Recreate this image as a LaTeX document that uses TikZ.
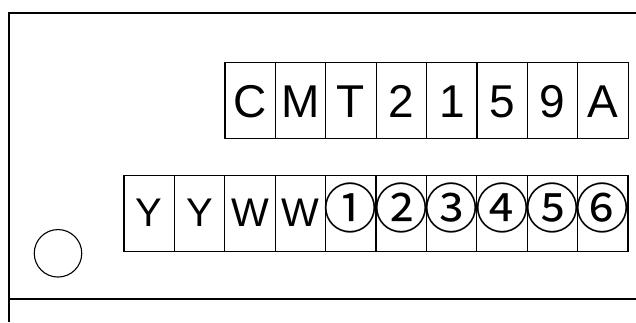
\documentclass[tikz,border=0pt]{standalone}
\usepackage{fontspec}
\setmainfont{Liberation Sans}
\newfontfamily\circfont{Noto Sans CJK JP}
\begin{document}
\begin{tikzpicture}[x=1pt,y=-1pt,
  cellbox/.style={draw,line width=1.1pt,minimum width=50.4pt,minimum height=75.5pt,inner sep=0pt,text depth=0pt},
  topcell/.style={cellbox,text height=34pt,font=\fontsize{46}{46}\selectfont},
  botcell/.style={cellbox,text height=26.4pt,font=\fontsize{40}{40}\selectfont},
  circcell/.style={cellbox,text height=29pt,font=\circfont\fontsize{54}{54}\selectfont},
  frame/.style={line width=1.1pt}]
\useasboundingbox (0,0) rectangle (636,322);
\coordinate (tl) at (9,13);
\coordinate (tr) at (636,13);
\coordinate (bl) at (9,322);
\coordinate (ml) at (9,299);
\coordinate (mr) at (636,299);
\draw[frame] (bl) -- (tl) -- (tr);
\draw[frame] (ml) -- (mr);
\node[draw,line width=1.1pt,circle,minimum size=47.5pt,inner sep=0pt] (hole) at (58,253.3) {};
% top row
\foreach \t [count=\i from 0] in {C,M,T,2,1,5,9,A}{
  \node[topcell] (t\i) at ({225+25.2+50.4*\i},100.3) {\makebox[0pt]{\t}};
}
% bottom row
\foreach \t [count=\i from 0] in {Y,Y,W,W}{
  \node[botcell] (b\i) at ({124+25.2+50.4*\i},213.5) {\makebox[0pt]{\t}};
}
\foreach \t [count=\i from 4] in {①,②,③,④,⑤,⑥}{
  \node[circcell] (b\i) at ({124+25.2+50.4*\i},213.5) {\makebox[0pt]{\t}};
}
\end{tikzpicture}
\end{document}
